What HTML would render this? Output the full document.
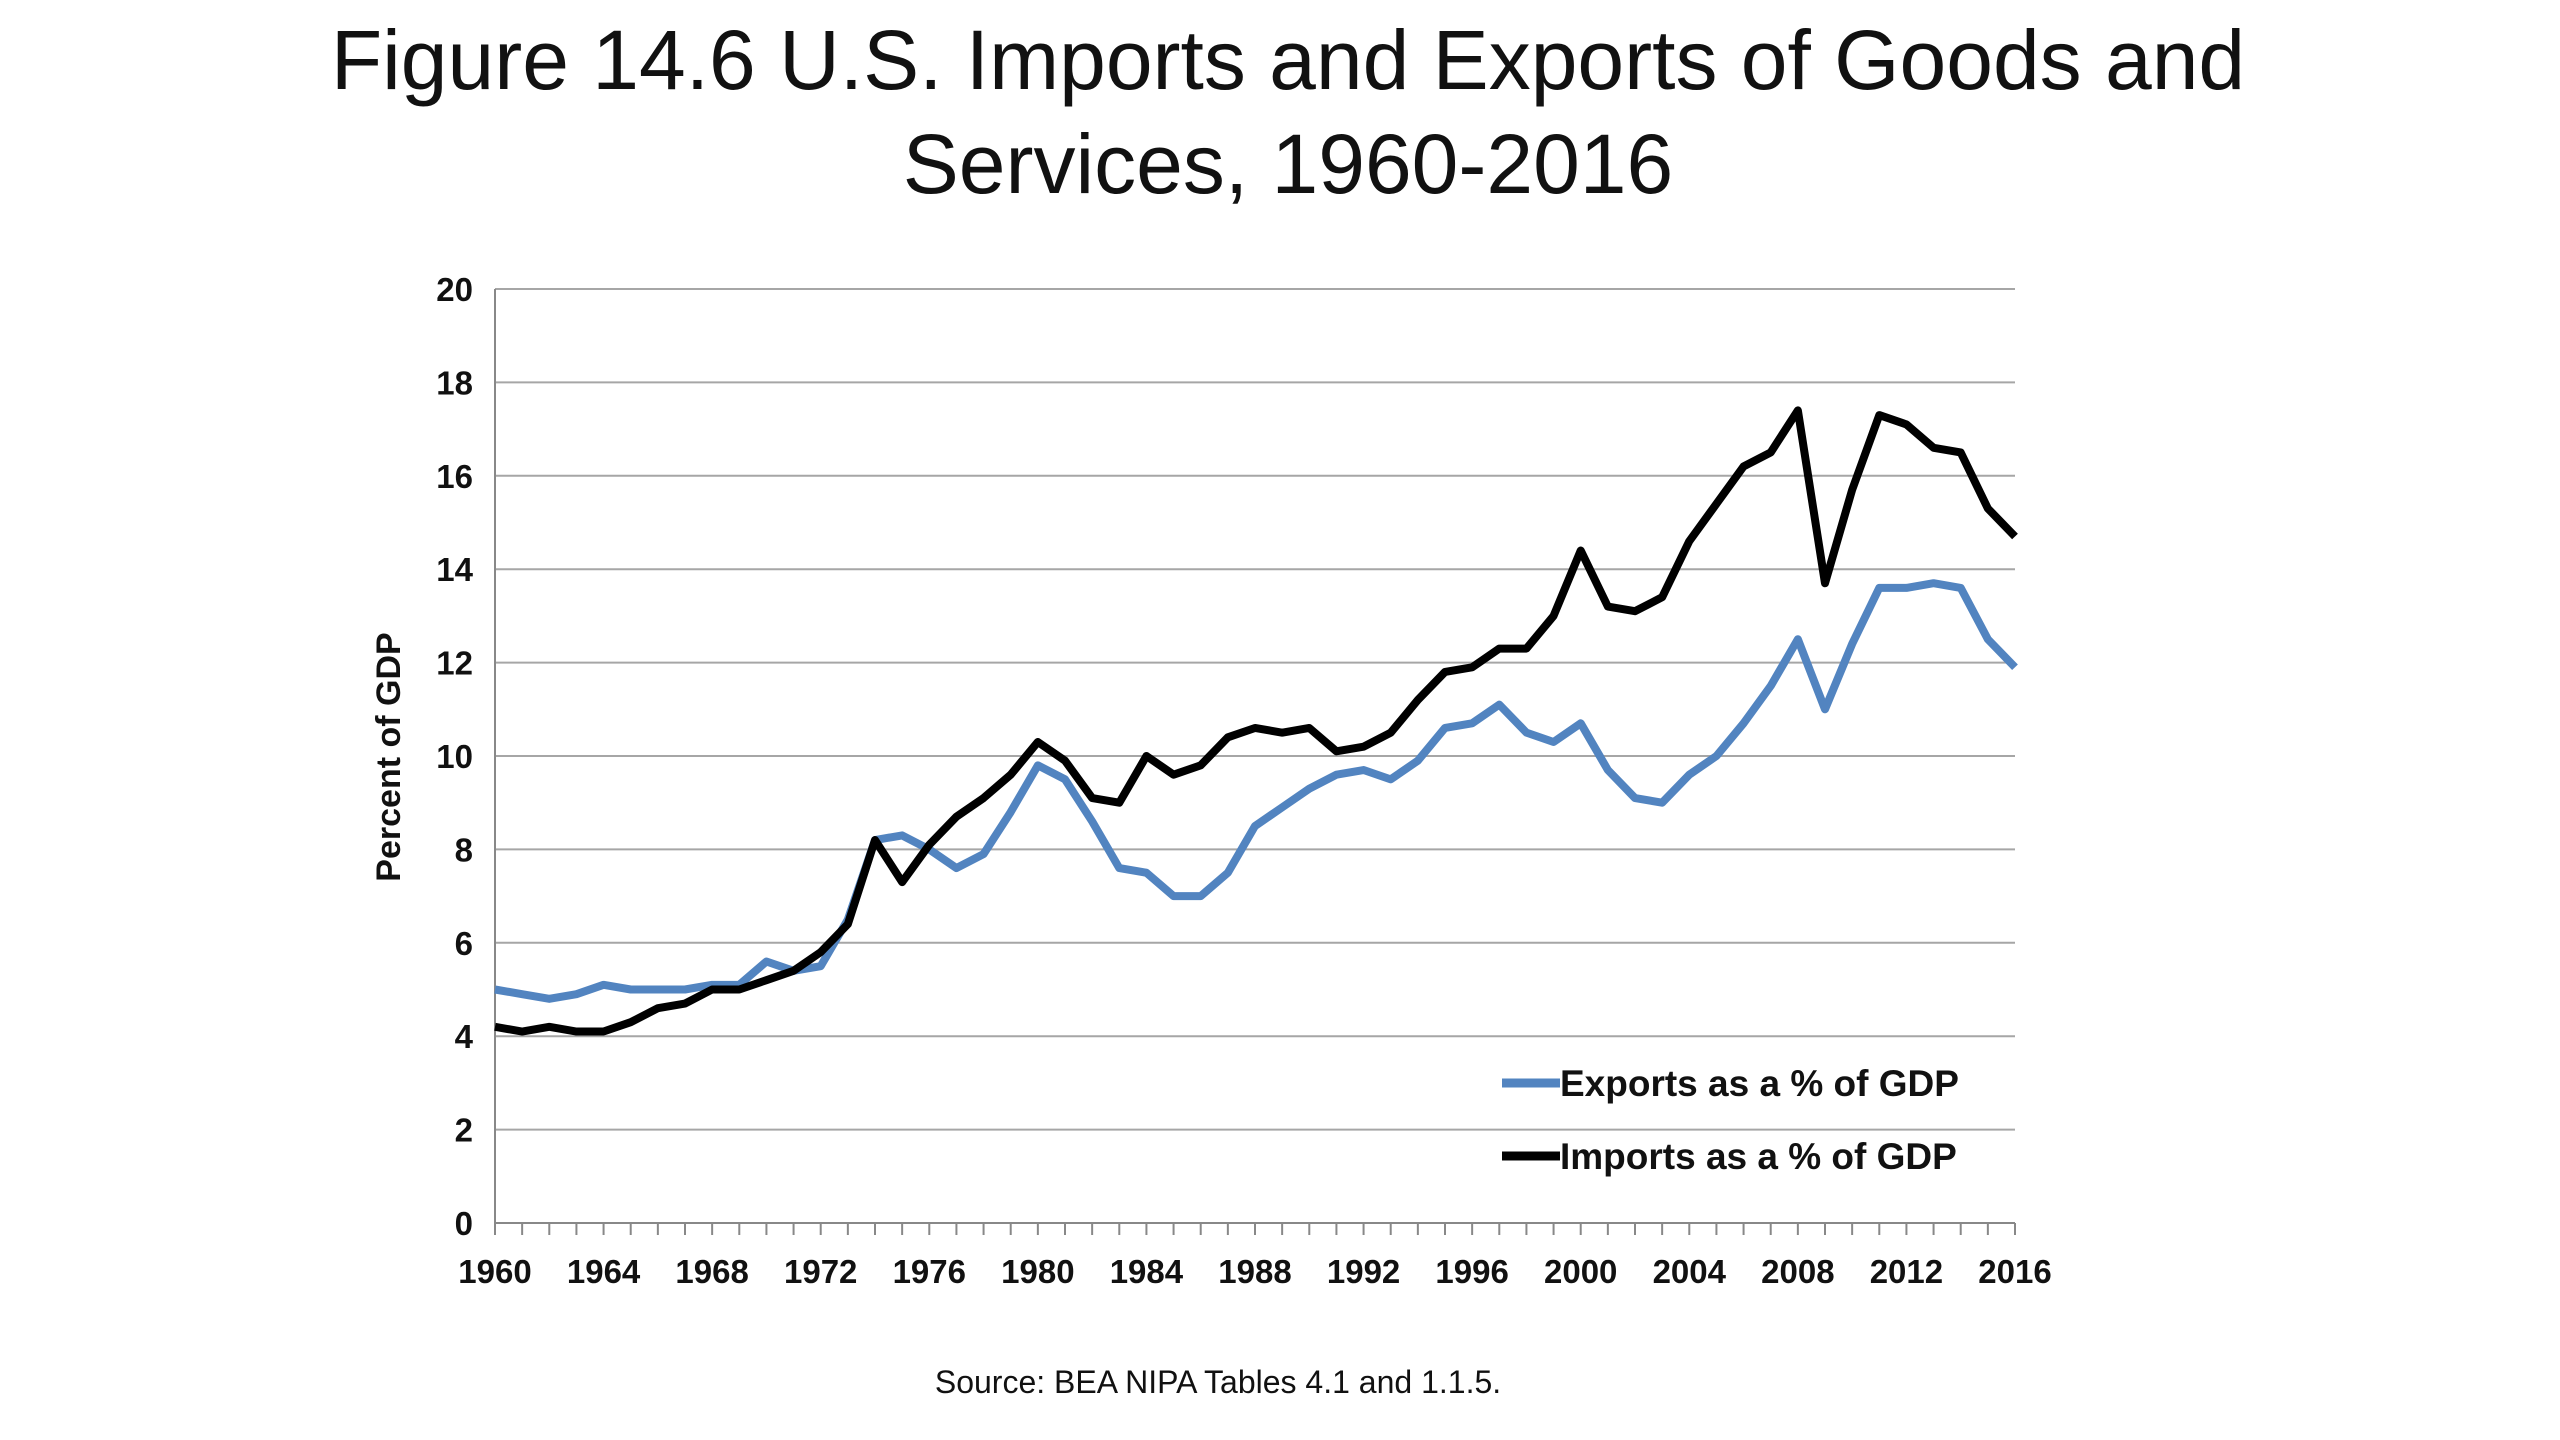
<!DOCTYPE html>
<html><head><meta charset="utf-8"><style>
html,body{margin:0;padding:0;background:#fff;}
#wrap{position:relative;width:2560px;height:1440px;overflow:hidden;}
.title{position:absolute;left:0;width:2576px;text-align:center;font-family:"Liberation Sans",sans-serif;font-size:84px;color:#111;top:8px;line-height:104px;}
.src{position:absolute;left:0;width:2436px;text-align:center;top:1364px;font-family:"Liberation Sans",sans-serif;font-size:32px;color:#111;}
</style></head><body>
<div id="wrap">
<div class="title">Figure 14.6 U.S. Imports and Exports of Goods and<br>Services, 1960-2016</div>
<svg id="chart" width="2560" height="1440" style="position:absolute;left:0;top:0"></svg>
<div class="src">Source: BEA NIPA Tables 4.1 and 1.1.5.</div>
</div>
<script>
const years=[];for(let y=1960;y<=2016;y++)years.push(y);
const exportsPct=[5.0,4.9,4.8,4.9,5.1,5.0,5.0,5.0,5.1,5.1,5.6,5.4,5.5,6.5,8.2,8.3,8.0,7.6,7.9,8.8,9.8,9.5,8.6,7.6,7.5,7.0,7.0,7.5,8.5,8.9,9.3,9.6,9.7,9.5,9.9,10.6,10.7,11.1,10.5,10.3,10.7,9.7,9.1,9.0,9.6,10.0,10.7,11.5,12.5,11.0,12.4,13.6,13.6,13.7,13.6,12.5,11.9];
const importsPct=[4.2,4.1,4.2,4.1,4.1,4.3,4.6,4.7,5.0,5.0,5.2,5.4,5.8,6.4,8.2,7.3,8.1,8.7,9.1,9.6,10.3,9.9,9.1,9.0,10.0,9.6,9.8,10.4,10.6,10.5,10.6,10.1,10.2,10.5,11.2,11.8,11.9,12.3,12.3,13.0,14.4,13.2,13.1,13.4,14.6,15.4,16.2,16.5,17.4,13.7,15.7,17.3,17.1,16.6,16.5,15.3,14.7];
const yTicks=[0,2,4,6,8,10,12,14,16,18,20];
const xTickLabels=[1960,1964,1968,1972,1976,1980,1984,1988,1992,1996,2000,2004,2008,2012,2016];
const L=495,R=2015,T=289,B=1223;
const xs=y=>L+(y-1960)/(2016-1960)*(R-L);
const ys=v=>B-v/20*(B-T);
const svg=document.getElementById('chart');
const NS='http://www.w3.org/2000/svg';
function mk(tag,attrs){const e=document.createElementNS(NS,tag);for(const k in attrs)e.setAttribute(k,attrs[k]);svg.appendChild(e);return e;}
const F='"Liberation Sans",Arial,sans-serif';
yTicks.forEach(v=>{
 const g=mk('line',{x1:L,x2:R,y1:ys(v),y2:ys(v),stroke:v===0?'#888':'#a6a6a6','stroke-width':2});
 
 
 const t=mk('text',{x:L-22,y:ys(v)+12,'text-anchor':'end','font-family':F,'font-weight':'bold','font-size':33,fill:'#111'});
 t.textContent=v;
 
 
});
const ax=mk('line',{x1:L,x2:L,y1:T,y2:B,stroke:'#888','stroke-width':2});


years.forEach(y=>{
 const tk=mk('line',{x1:xs(y),x2:xs(y),y1:B,y2:B+12,stroke:'#888','stroke-width':2});
 
 
});
xTickLabels.forEach(y=>{
 const t=mk('text',{x:xs(y),y:B+60,'text-anchor':'middle','font-family':F,'font-weight':'bold','font-size':33,fill:'#111'});
 t.textContent=y;
 
 
});
const yt=mk('text',{x:0,y:0,transform:'translate(400,757) rotate(-90)','text-anchor':'middle','font-family':F,'font-weight':'bold','font-size':34,fill:'#111'});
yt.textContent='Percent of GDP';


function line(data,color,name){
 const p=mk('polyline',{points:data.map((v,i)=>xs(years[i])+','+ys(v)).join(' '),fill:'none',stroke:color,'stroke-width':8,'stroke-linejoin':'round'});
 
 
}
line(exportsPct,'#5284c0','exports-line');
line(importsPct,'#000','imports-line');
[['Exports as a % of GDP','#5284c0',1083,'legend-exports'],['Imports as a % of GDP','#000',1156,'legend-imports']].forEach(([lab,c,y,n])=>{
 const l=mk('line',{x1:1502,x2:1560,y1:y,y2:y,stroke:c,'stroke-width':9});
 
 
 const t=mk('text',{x:1560,y:y+13,'font-family':F,'font-weight':'bold','font-size':37,fill:'#111'});
 t.textContent=lab;
 
 
});
</script>
</body></html>
